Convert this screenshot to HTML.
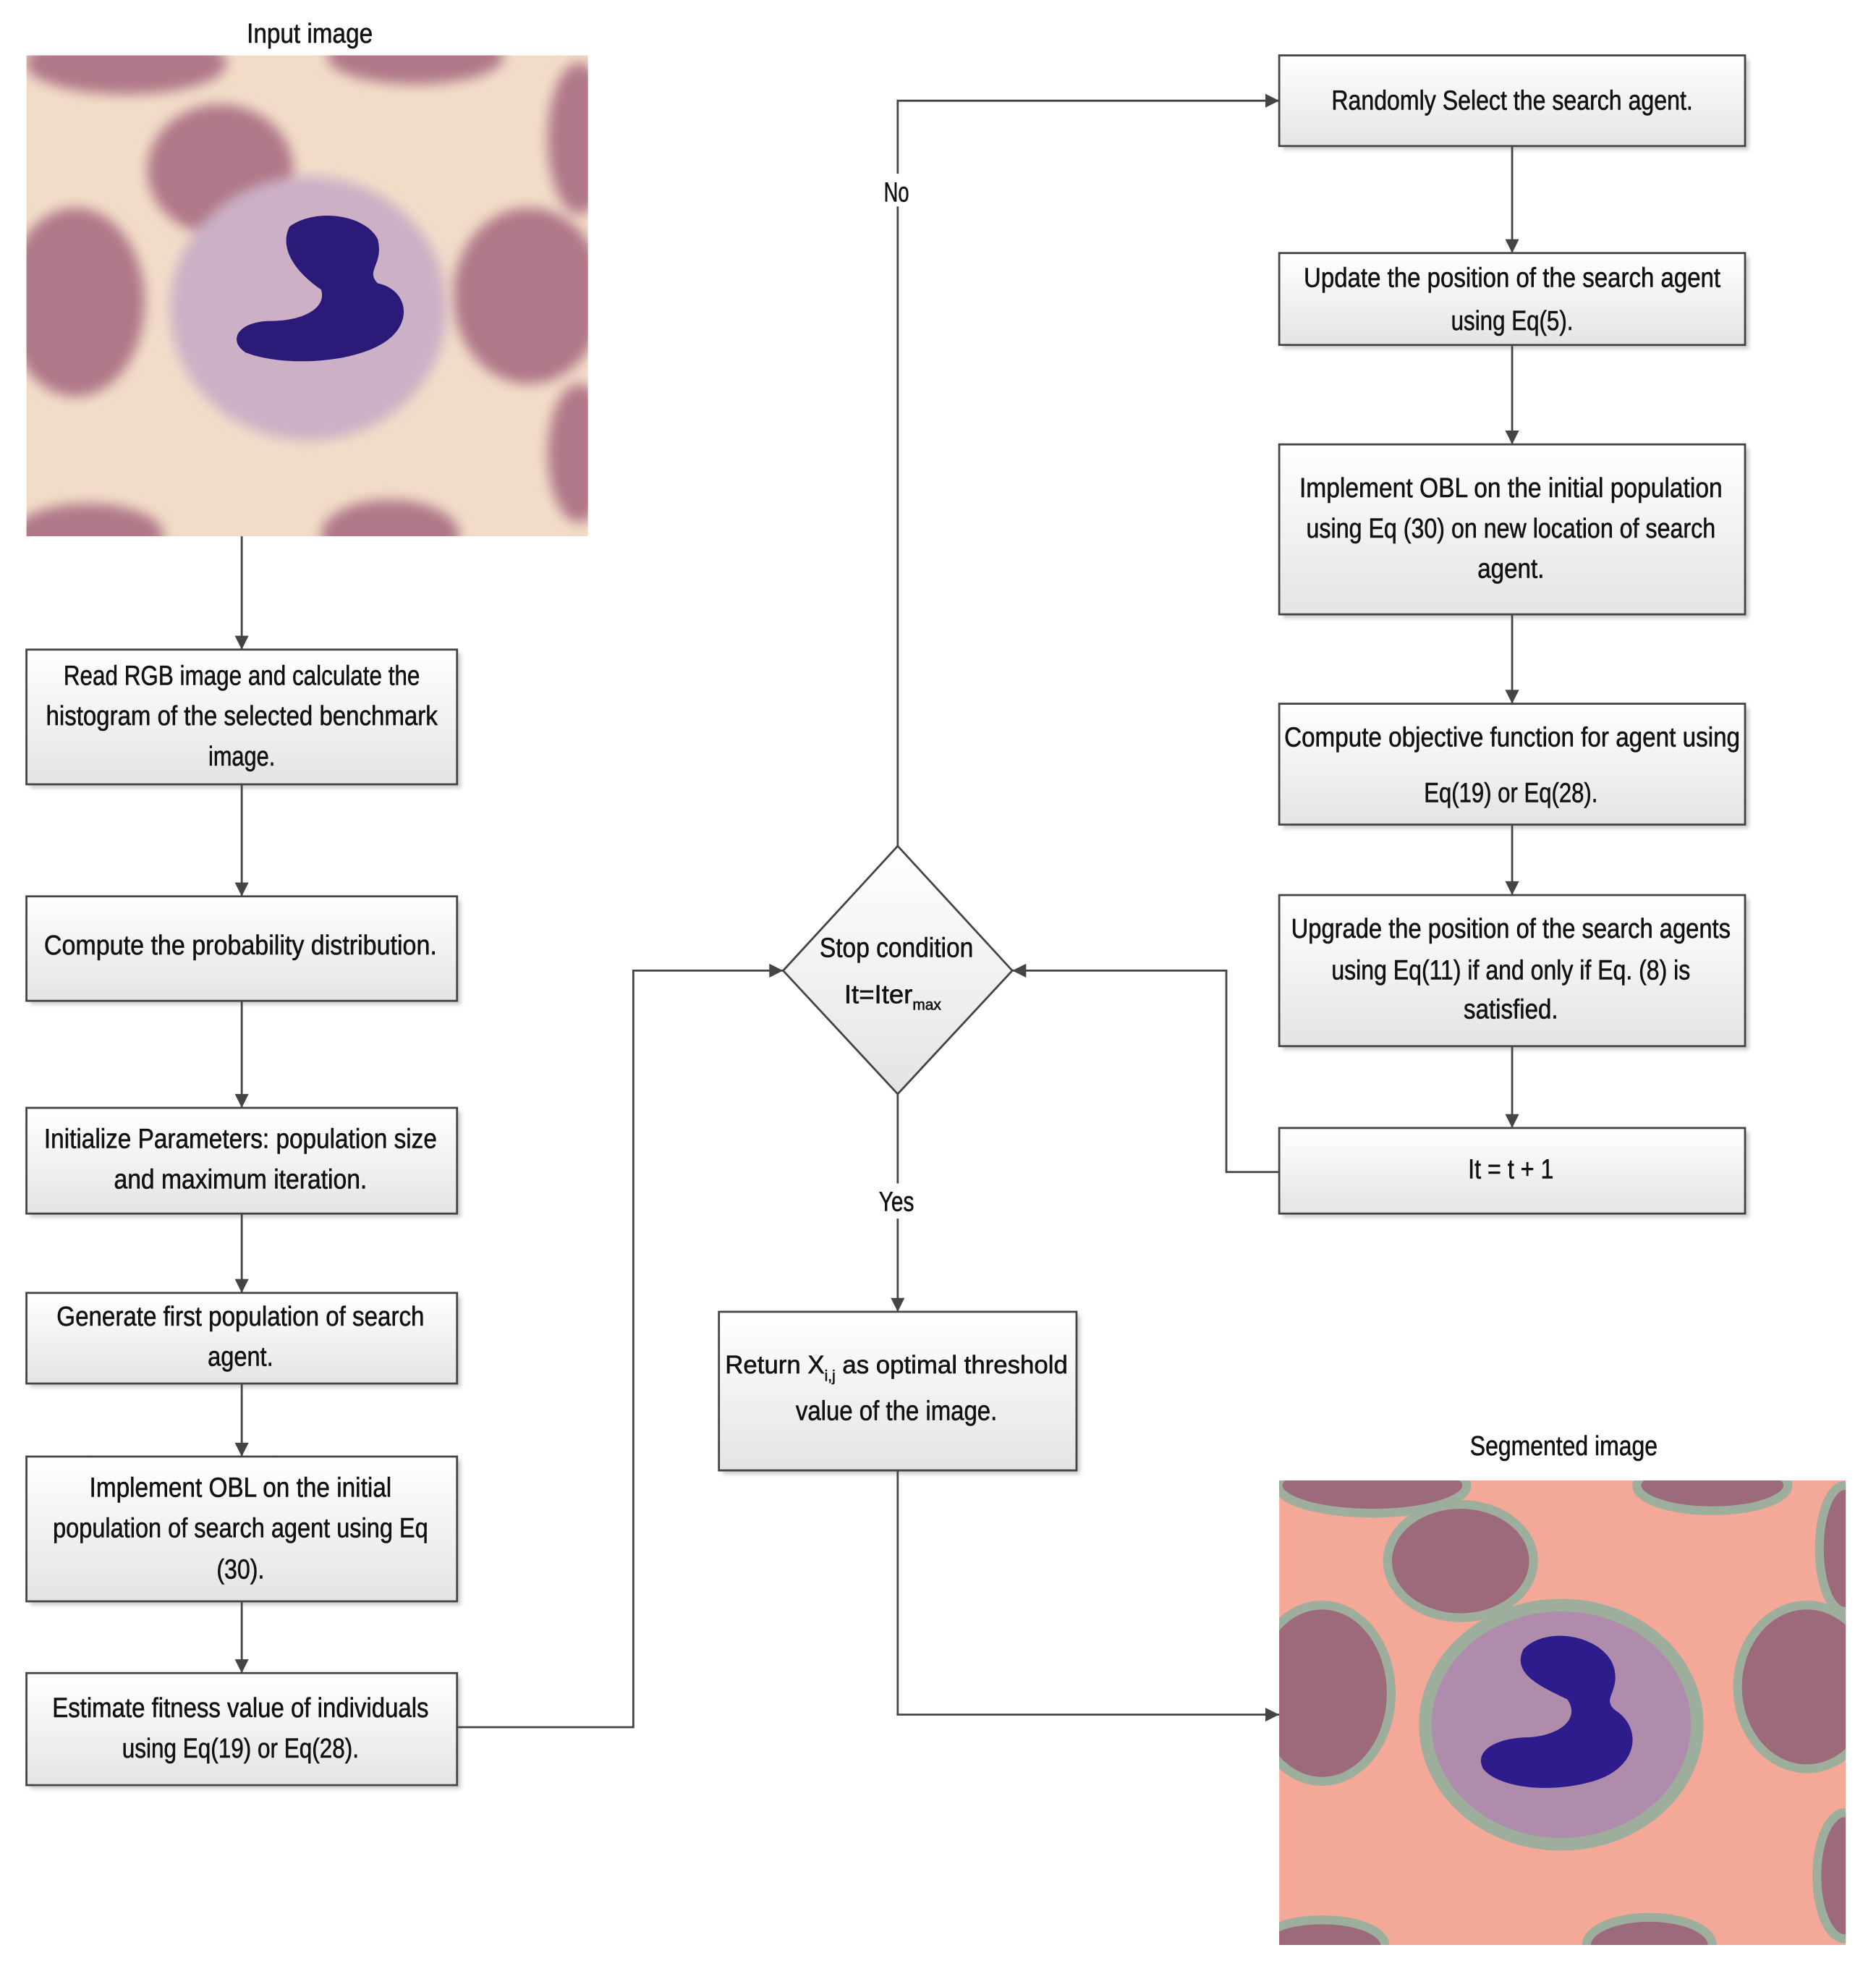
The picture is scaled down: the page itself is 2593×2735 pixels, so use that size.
<!DOCTYPE html>
<html><head><meta charset="utf-8"><style>
html,body{margin:0;padding:0;background:#fff;}
svg{display:block;}
text{font-family:"Liberation Sans Narrow","Liberation Sans",sans-serif;font-size:22px;fill:#111;text-anchor:middle;stroke:#111;stroke-width:0.35px;}
</style></head><body>
<svg width="2593" height="2735" viewBox="0 0 1490 1572" preserveAspectRatio="none" xmlns="http://www.w3.org/2000/svg">
<defs>
<linearGradient id="g" x1="0" y1="0" x2="0" y2="1"><stop offset="0" stop-color="#ffffff"/><stop offset="1" stop-color="#e4e4e4"/></linearGradient>
<marker id="a" viewBox="0 0 10 10" refX="10" refY="5" markerWidth="13" markerHeight="11" markerUnits="userSpaceOnUse" orient="auto"><path d="M0,0 L10,5 L0,10 z" fill="#444"/></marker>
<filter id="bl"><feGaussianBlur stdDeviation="5"/></filter>
<filter id="sh"><feGaussianBlur stdDeviation="1.5"/></filter>
<clipPath id="c1"><rect x="21" y="44" width="446" height="382"/></clipPath>
<clipPath id="c2"><rect x="1016" y="1176" width="450" height="369"/></clipPath>
</defs>

<text x="246" y="34" textLength="100" lengthAdjust="spacingAndGlyphs">Input image</text>
<g clip-path="url(#c1)">
<rect x="21" y="44" width="446" height="382" fill="#f2dcc8"/>
<g filter="url(#bl)" fill="#b07888">
<ellipse cx="100" cy="50" rx="80" ry="25"/>
<ellipse cx="330" cy="45" rx="70" ry="22"/>
<ellipse cx="175" cy="135" rx="58" ry="52"/>
<ellipse cx="60" cy="240" rx="55" ry="75"/>
<ellipse cx="420" cy="235" rx="60" ry="70"/>
<ellipse cx="460" cy="110" rx="25" ry="60"/>
<ellipse cx="460" cy="360" rx="25" ry="55"/>
<ellipse cx="70" cy="425" rx="60" ry="25"/>
<ellipse cx="310" cy="425" rx="55" ry="28"/>
</g>
<ellipse cx="245" cy="245" rx="110" ry="105" fill="#cbb0c6" filter="url(#bl)"/>
<path d="M230,180 C250,165 290,170 300,190 C305,210 290,215 300,225 C325,230 330,260 300,275 C270,290 220,290 195,280 C180,270 190,255 215,255 C240,255 260,245 255,230 C240,220 220,200 230,180 z" fill="#2b1a78"/>
</g>

<g stroke="#444" stroke-width="1.6">
<rect x="24" y="519" width="342" height="107" fill="#ccc" stroke="none" filter="url(#sh)"/>
<rect x="21" y="516" width="342" height="107" fill="url(#g)"/>
<rect x="24" y="715" width="342" height="83" fill="#ccc" stroke="none" filter="url(#sh)"/>
<rect x="21" y="712" width="342" height="83" fill="url(#g)"/>
<rect x="24" y="883" width="342" height="84" fill="#ccc" stroke="none" filter="url(#sh)"/>
<rect x="21" y="880" width="342" height="84" fill="url(#g)"/>
<rect x="24" y="1030" width="342" height="72" fill="#ccc" stroke="none" filter="url(#sh)"/>
<rect x="21" y="1027" width="342" height="72" fill="url(#g)"/>
<rect x="24" y="1160" width="342" height="115" fill="#ccc" stroke="none" filter="url(#sh)"/>
<rect x="21" y="1157" width="342" height="115" fill="url(#g)"/>
<rect x="24" y="1332" width="342" height="89" fill="#ccc" stroke="none" filter="url(#sh)"/>
<rect x="21" y="1329" width="342" height="89" fill="url(#g)"/>
<rect x="1019" y="47" width="370" height="72" fill="#ccc" stroke="none" filter="url(#sh)"/>
<rect x="1016" y="44" width="370" height="72" fill="url(#g)"/>
<rect x="1019" y="204" width="370" height="73" fill="#ccc" stroke="none" filter="url(#sh)"/>
<rect x="1016" y="201" width="370" height="73" fill="url(#g)"/>
<rect x="1019" y="356" width="370" height="135" fill="#ccc" stroke="none" filter="url(#sh)"/>
<rect x="1016" y="353" width="370" height="135" fill="url(#g)"/>
<rect x="1019" y="562" width="370" height="96" fill="#ccc" stroke="none" filter="url(#sh)"/>
<rect x="1016" y="559" width="370" height="96" fill="url(#g)"/>
<rect x="1019" y="714" width="370" height="120" fill="#ccc" stroke="none" filter="url(#sh)"/>
<rect x="1016" y="711" width="370" height="120" fill="url(#g)"/>
<rect x="1019" y="899" width="370" height="68" fill="#ccc" stroke="none" filter="url(#sh)"/>
<rect x="1016" y="896" width="370" height="68" fill="url(#g)"/>
<rect x="574" y="1045" width="284" height="126" fill="#ccc" stroke="none" filter="url(#sh)"/>
<rect x="571" y="1042" width="284" height="126" fill="url(#g)"/>
<path d="M713,672 L804,771 L713,869 L622,771 z" fill="url(#g)"/>
</g>

<g stroke="#444" stroke-width="1.6" fill="none" marker-end="url(#a)">
<path d="M192,426 V516"/>
<path d="M192,623 V712"/>
<path d="M192,795 V880"/>
<path d="M192,964 V1027"/>
<path d="M192,1099 V1157"/>
<path d="M192,1272 V1329"/>
<path d="M363,1372 H503 V771 H622"/>
<path d="M713,672 V80 H1016"/>
<path d="M1201,116 V201"/>
<path d="M1201,274 V353"/>
<path d="M1201,488 V559"/>
<path d="M1201,655 V711"/>
<path d="M1201,831 V896"/>
<path d="M1016,931 H974 V771 H804"/>
<path d="M713,869 V1042"/>
<path d="M713,1168 V1362 H1016"/>
</g>
<rect x="698" y="138" width="30" height="26" fill="#fff"/>
<text x="712" y="160" textLength="20" lengthAdjust="spacingAndGlyphs">No</text>
<rect x="693" y="940" width="40" height="28" fill="#fff"/>
<text x="712" y="962" textLength="28" lengthAdjust="spacingAndGlyphs">Yes</text>

<text x="192" y="544" textLength="283" lengthAdjust="spacingAndGlyphs">Read RGB image and calculate the</text>
<text x="192" y="576" textLength="311" lengthAdjust="spacingAndGlyphs">histogram of the selected benchmark</text>
<text x="192" y="608" textLength="53" lengthAdjust="spacingAndGlyphs">image.</text>
<text x="191" y="758" textLength="312" lengthAdjust="spacingAndGlyphs">Compute the probability distribution.</text>
<text x="191" y="912" textLength="312" lengthAdjust="spacingAndGlyphs">Initialize  Parameters: population size</text>
<text x="191" y="944" textLength="201" lengthAdjust="spacingAndGlyphs">and maximum iteration.</text>
<text x="191" y="1053" textLength="292" lengthAdjust="spacingAndGlyphs">Generate first population of search</text>
<text x="191" y="1085" textLength="52" lengthAdjust="spacingAndGlyphs">agent.</text>
<text x="191" y="1189" textLength="240" lengthAdjust="spacingAndGlyphs">Implement OBL on the initial</text>
<text x="191" y="1221" textLength="298" lengthAdjust="spacingAndGlyphs">population of search agent using Eq</text>
<text x="191" y="1254" textLength="38" lengthAdjust="spacingAndGlyphs">(30).</text>
<text x="191" y="1364" textLength="299" lengthAdjust="spacingAndGlyphs">Estimate fitness value of individuals</text>
<text x="191" y="1396" textLength="188" lengthAdjust="spacingAndGlyphs">using Eq(19) or Eq(28).</text>

<text x="712" y="760" textLength="122" lengthAdjust="spacingAndGlyphs">Stop condition</text>
<text x="709" y="797" style="font-size:21px">It=Iter<tspan style="font-size:12px" dy="5">max</tspan></text>

<text x="1201" y="87" textLength="287" lengthAdjust="spacingAndGlyphs">Randomly Select the search agent.</text>
<text x="1201" y="228" textLength="331" lengthAdjust="spacingAndGlyphs">Update the position of the search agent</text>
<text x="1201" y="262" textLength="97" lengthAdjust="spacingAndGlyphs">using Eq(5).</text>
<text x="1200" y="395" textLength="336" lengthAdjust="spacingAndGlyphs">Implement OBL on the initial population</text>
<text x="1200" y="427" textLength="325" lengthAdjust="spacingAndGlyphs">using Eq (30) on new location of search</text>
<text x="1200" y="459" textLength="53" lengthAdjust="spacingAndGlyphs">agent.</text>
<text x="1201" y="593" textLength="362" lengthAdjust="spacingAndGlyphs">Compute objective function for agent using</text>
<text x="1200" y="637" textLength="138" lengthAdjust="spacingAndGlyphs">Eq(19) or Eq(28).</text>
<text x="1200" y="745" textLength="349" lengthAdjust="spacingAndGlyphs">Upgrade the position of the search agents</text>
<text x="1200" y="778" textLength="285" lengthAdjust="spacingAndGlyphs">using Eq(11) if and only if Eq. (8) is</text>
<text x="1200" y="809" textLength="75" lengthAdjust="spacingAndGlyphs">satisfied.</text>
<text x="1200" y="936" textLength="68" lengthAdjust="spacingAndGlyphs">It = t + 1</text>

<text x="712" y="1091" style="font-size:20px">Return X<tspan style="font-size:12px" dy="6">i,j</tspan><tspan dy="-6"> as optimal threshold</tspan></text>
<text x="712" y="1128" textLength="160" lengthAdjust="spacingAndGlyphs">value of the image.</text>

<text x="1242" y="1156" textLength="149" lengthAdjust="spacingAndGlyphs">Segmented image</text>
<g clip-path="url(#c2)">
<rect x="1016" y="1176" width="450" height="369" fill="#f4a898"/>
<g fill="#9c6a7a" stroke="#9eae9c" stroke-width="7">
<ellipse cx="1090" cy="1180" rx="75" ry="22"/>
<ellipse cx="1160" cy="1240" rx="58" ry="45"/>
<ellipse cx="1360" cy="1180" rx="60" ry="20"/>
<ellipse cx="1050" cy="1345" rx="55" ry="70"/>
<ellipse cx="1435" cy="1340" rx="55" ry="65"/>
<ellipse cx="1465" cy="1230" rx="20" ry="50"/>
<ellipse cx="1465" cy="1490" rx="22" ry="50"/>
<ellipse cx="1050" cy="1545" rx="50" ry="20"/>
<ellipse cx="1310" cy="1545" rx="50" ry="22"/>
</g>
<ellipse cx="1240" cy="1370" rx="108" ry="95" fill="#b08cac" stroke="#9eae9c" stroke-width="10"/>
<path d="M1210,1310 C1230,1290 1275,1300 1282,1325 C1287,1345 1270,1350 1285,1360 C1305,1375 1300,1405 1265,1415 C1230,1425 1190,1420 1178,1405 C1170,1390 1190,1380 1215,1380 C1240,1378 1255,1365 1245,1350 C1225,1340 1200,1330 1210,1310 z" fill="#2e1c8c"/>
</g>
</svg>
</body></html>
